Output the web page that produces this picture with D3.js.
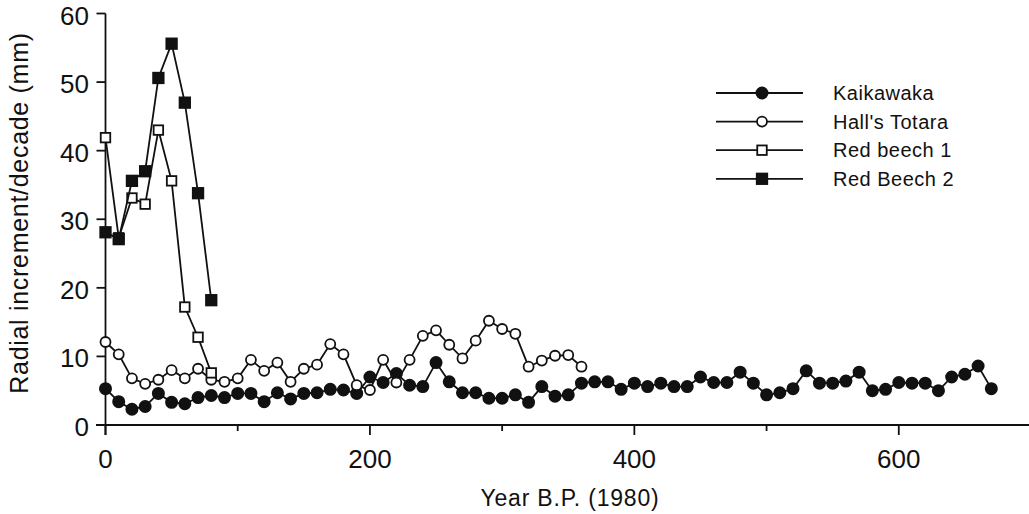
<!DOCTYPE html>
<html>
<head>
<meta charset="utf-8">
<script src="https://cdn.jsdelivr.net/npm/d3@7"></script>
<style>
    html, body { margin: 0; padding: 0; background: #fff; }
    svg { display: block; font-family: "Liberation Sans", Arial, sans-serif; }
</style>
</head>
<body>
<div id="chart"></div>
<script>
'use strict'

////////////////////////////////////
//////////////// data //////////////
////////////////////////////////////

const kaikawakaYears = [0, 10, 20, 30, 40, 50, 60, 70, 80, 90, 100, 110, 120, 130, 140, 150, 160, 170, 180, 190,
    200, 210, 220, 230, 240, 250, 260, 270, 280, 290, 300, 310, 320, 330, 340, 350, 360, 370, 380, 390,
    400, 410, 420, 430, 440, 450, 460, 470, 480, 490, 500, 510, 520, 530, 540, 550, 560, 570, 580, 590,
    600, 610, 620, 630, 640, 650, 660, 670]
const kaikawaka = [5.3, 3.4, 2.3, 2.7, 4.6, 3.3, 3.1, 4.0, 4.3, 4.0, 4.6, 4.6, 3.4, 4.7, 3.8, 4.6, 4.7, 5.2, 5.1, 4.6,
    7.0, 6.2, 7.5, 5.8, 5.6, 9.1, 6.3, 4.7, 4.7, 3.9, 3.9, 4.4, 3.3, 5.6, 4.2, 4.4, 6.1, 6.3, 6.3, 5.2,
    6.1, 5.6, 6.1, 5.6, 5.6, 7.0, 6.2, 6.2, 7.7, 6.1, 4.4, 4.7, 5.3, 7.9, 6.1, 6.1, 6.4, 7.7, 5.0, 5.2,
    6.2, 6.1, 6.1, 5.0, 7.0, 7.4, 8.6, 5.3]

const totaraYears = [0, 10, 20, 30, 40, 50, 60, 70, 80, 90, 100, 110, 120, 130, 140, 150, 160, 170, 180, 190,
    200, 210, 220, 230, 240, 250, 260, 270, 280, 290, 300, 310, 320, 330, 340, 350, 360]
const hallsTotara = [12.1, 10.3, 6.8, 6.0, 6.6, 8.0, 6.8, 8.2, 6.6, 6.3, 6.8, 9.5, 7.9, 9.1, 6.3, 8.2, 8.8, 11.8, 10.3, 5.8,
    5.1, 9.5, 6.2, 9.5, 13.0, 13.8, 11.7, 9.7, 12.3, 15.2, 14.0, 13.3, 8.5, 9.4, 10.1, 10.2, 8.5]

const beechYears = [0, 10, 20, 30, 40, 50, 60, 70, 80]
const redBeech1 = [41.9, 27.3, 33.1, 32.2, 43.0, 35.6, 17.2, 12.8, 7.6]
const redBeech2 = [28.1, 27.1, 35.6, 37.0, 50.6, 55.6, 47.0, 33.8, 18.2]

const seriesNames = ["Kaikawaka", "Hall's Totara", "Red beech 1", "Red Beech 2"]

const xMajorTicks = [0, 200, 400, 600]
const xMinorTicks = [100, 300, 500]
const yTicks = [0, 10, 20, 30, 40, 50, 60]

const xTitle = "Year B.P. (1980)"
const yTitle = "Radial increment/decade (mm)"

////////////////////////////////////
//////////// svg setup /////////////
////////////////////////////////////

const svgWidth = 1029
const svgHeight = 514
const ink = "#111"
const sw = 1.8

const svg = d3.select("#chart")
    .append("svg")
    .attr("width", svgWidth)
    .attr("height", svgHeight)

const x = d3.scaleLinear().domain([0, 700]).range([105.5, 1031])
const y = d3.scaleLinear().domain([0, 60]).range([425, 13.5])

const series = [
    { name: seriesNames[0], years: kaikawakaYears, values: kaikawaka, shape: "circle", fill: ink },
    { name: seriesNames[1], years: totaraYears, values: hallsTotara, shape: "circle", fill: "#fff" },
    { name: seriesNames[2], years: beechYears, values: redBeech1, shape: "square", fill: "#fff" },
    { name: seriesNames[3], years: beechYears, values: redBeech2, shape: "square", fill: ink }
]

////////////////////////////////////
/////////////// axes ///////////////
////////////////////////////////////

const axes = svg.append("g").attr("stroke", ink).attr("stroke-width", sw)

// x axis line runs a little past the y axis
axes.append("line")
    .attr("x1", 96).attr("x2", svgWidth)
    .attr("y1", y(0)).attr("y2", y(0))

axes.append("line")
    .attr("x1", x(0)).attr("x2", x(0))
    .attr("y1", y(60)).attr("y2", y(0) + 10)

axes.selectAll(".xmajor")
    .data(xMajorTicks)
    .join("line")
    .attr("x1", d => x(d)).attr("x2", d => x(d))
    .attr("y1", y(0)).attr("y2", y(0) + 10)

axes.selectAll(".xminor")
    .data(xMinorTicks)
    .join("line")
    .attr("class", "xminor")
    .attr("x1", d => x(d)).attr("x2", d => x(d))
    .attr("y1", y(0)).attr("y2", y(0) + 6)

axes.selectAll(".ytick")
    .data(yTicks)
    .join("line")
    .attr("class", "ytick")
    .attr("x1", x(0) - 9).attr("x2", x(0))
    .attr("y1", d => y(d)).attr("y2", d => y(d))

svg.append("g")
    .attr("font-size", 26)
    .attr("fill", ink)
    .attr("text-anchor", "middle")
    .selectAll("text")
    .data(xMajorTicks)
    .join("text")
    .attr("x", d => x(d))
    .attr("y", y(0) + 43)
    .text(d => d)

svg.append("g")
    .attr("font-size", 26)
    .attr("fill", ink)
    .attr("text-anchor", "end")
    .selectAll("text")
    .data(yTicks)
    .join("text")
    .attr("x", 89)
    .attr("y", d => y(d) + 11)
    .text(d => d)

svg.append("text")
    .attr("x", 570)
    .attr("y", 506)
    .attr("font-size", 23)
    .attr("letter-spacing", 0.8)
    .attr("text-anchor", "middle")
    .attr("fill", ink)
    .text(xTitle)

svg.append("text")
    .attr("transform", `translate(28,${213}) rotate(-90)`)
    .attr("font-size", 25)
    .attr("letter-spacing", 0.7)
    .attr("text-anchor", "middle")
    .attr("fill", ink)
    .text(yTitle)

////////////////////////////////////
////////////// series //////////////
////////////////////////////////////

const line = d3.line()
    .x(d => x(d[0]))
    .y(d => y(d[1]))

function drawMarker(g, shape, fill, cx, cy) {
    if (shape === "circle") {
        g.append("circle")
            .attr("cx", cx).attr("cy", cy)
            .attr("r", fill === ink ? 5.6 : 5)
            .attr("fill", fill)
            .attr("stroke", ink)
            .attr("stroke-width", sw)
    } else {
        const s = fill === ink ? 10.5 : 9.5
        g.append("rect")
            .attr("x", cx - s / 2).attr("y", cy - s / 2)
            .attr("width", s).attr("height", s)
            .attr("fill", fill)
            .attr("stroke", ink)
            .attr("stroke-width", sw)
    }
}

series.forEach(s => {
    const pts = s.years.map((yr, i) => [yr, s.values[i]])
    const g = svg.append("g")

    g.append("path")
        .datum(pts)
        .attr("d", line)
        .attr("fill", "none")
        .attr("stroke", ink)
        .attr("stroke-width", sw)

    pts.forEach(p => drawMarker(g, s.shape, s.fill, x(p[0]), y(p[1])))
})

////////////////////////////////////
////////////// legend //////////////
////////////////////////////////////

const legend = svg.append("g")

series.forEach((s, i) => {
    const ly = 93 + i * 28.6
    legend.append("line")
        .attr("x1", 716).attr("x2", 803)
        .attr("y1", ly).attr("y2", ly)
        .attr("stroke", ink)
        .attr("stroke-width", sw)
    drawMarker(legend, s.shape, s.fill, 762, ly)
    legend.append("text")
        .attr("x", 833)
        .attr("y", ly + 7)
        .attr("font-size", 20)
        .attr("letter-spacing", 0.5)
        .attr("fill", ink)
        .text(s.name)
})
</script>
</body>
</html>
